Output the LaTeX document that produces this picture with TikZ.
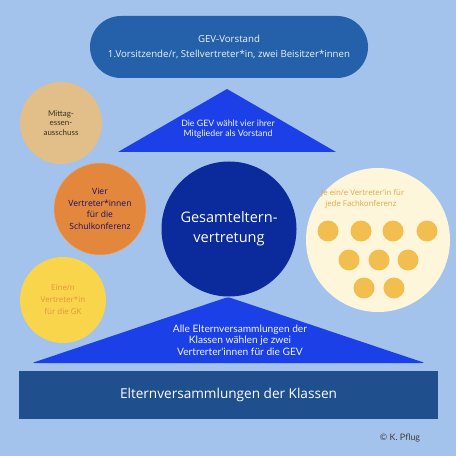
\documentclass[tikz,border=0pt]{standalone}
\usepackage{fontspec}
\setmainfont{Open Sans}
\newfontfamily\duenn{Lato}
\newcommand{\schrift}[2]{\fontsize{#1}{#2}\selectfont}
\definecolor{hinter}{HTML}{A3C2EC}
\definecolor{vorstand}{HTML}{2461AA}
\definecolor{dreieck}{HTML}{1B40E8}
\definecolor{mittag}{HTML}{E2BF89}
\definecolor{orange}{HTML}{E2873C}
\definecolor{gelb}{HTML}{F9D54C}
\definecolor{gev}{HTML}{0B2A9C}
\definecolor{creme}{HTML}{FDF6DA}
\definecolor{punkt}{HTML}{F2BE4F}
\definecolor{klassen}{HTML}{1F4F8C}
\tikzset{
  kreis/.style={circle,inner sep=0pt,align=center},
  hell/.style={text=white!85!hinter,align=center}
}
\begin{document}
\begin{tikzpicture}[x=0.03cm,y=-0.03cm,line join=round,font=\duenn]
\fill[hinter] (0,0) rectangle (456,456);
\useasboundingbox (0,0) rectangle (456,456);
% Vorstand oben
\node[fill=vorstand,rounded corners=0.93cm,minimum width=8.34cm,minimum height=1.86cm,
      text=white!92!vorstand,align=center,font=\schrift{8.25}{13.5}] (vorst) at (229,47)
  {GEV-Vorstand\\1.Vorsitzende/r, Stellvertreter*in, zwei Beisitzer*innen};
% oberes Dreieck
\fill[dreieck] (227,89) -- (336,152) -- (118,152) -- cycle;
\node[hell,font=\duenn\schrift{7.5}{8.8}] (wahl) at (228,129) {Die GEV wählt vier ihrer\\Mitglieder als Vorstand};
% unteres Dreieck
\fill[dreieck,rounded corners=2pt] (228,297) -- (425,363) -- (32,363) -- cycle;
\node[hell,font=\duenn\schrift{8.7}{9.9}] (alle) at (240,340)
  {Alle Elternversammlungen der\\Klassen wählen je zwei\\Vertrerter'innen für die GEV};
% Kreise links
\node[kreis,fill=mittag,minimum size=2.46cm,text=black!75!mittag,font=\duenn\schrift{6.8}{8.3}] (essen) at (61,123)
  {Mittag-\\essen-\\ausschuss};
\node[kreis,fill=orange,draw=orange!70!white,minimum size=2.76cm,text=blue!45!black!90!orange,font=\schrift{7.3}{9.8}] (schulk) at (100,209)
  {Vier\\Vertreter*innen\\für die\\Schulkonferenz};
\node[kreis,fill=gelb,minimum size=2.58cm,text=orange!85!gelb,font=\schrift{6.8}{10.2}] (gk) at (63,300)
  {Eine/n\\Vertreter*in\\für die GK};
% Mitte
\node[kreis,fill=gev,minimum size=4.05cm,text=white,font=\schrift{12.4}{17}] (gesamt) at (229,229)
  {Gesamteltern-\\vertretung};
% Fachkonferenzen
\node[kreis,fill=creme,minimum size=4.32cm] (fach) at (378,240) {};
\node[anchor=west,align=left,text=punkt!65!brown,font=\schrift{6.7}{8.7},inner sep=0pt] (jeein) at (321,199)
  {Je ein/e Vertreter'in für\\\ \ jede Fachkonferenz};
\foreach \x/\y in {328/231,361/231,393/231,427/231,349/260,379/260,408/260,364/288,394/288}
  \fill[punkt] (\x,\y) circle[radius=10.5];
% Klassen
\node[fill=klassen,minimum width=12.57cm,minimum height=1.44cm,text=white,font=\schrift{11.6}{13}] (klassen) at (228.5,395)
  {Elternversammlungen der Klassen};
\node[text=black!75,font=\duenn\schrift{7.6}{8}] (copy) at (400,438) {© K. Pflug};
\end{tikzpicture}
\end{document}
